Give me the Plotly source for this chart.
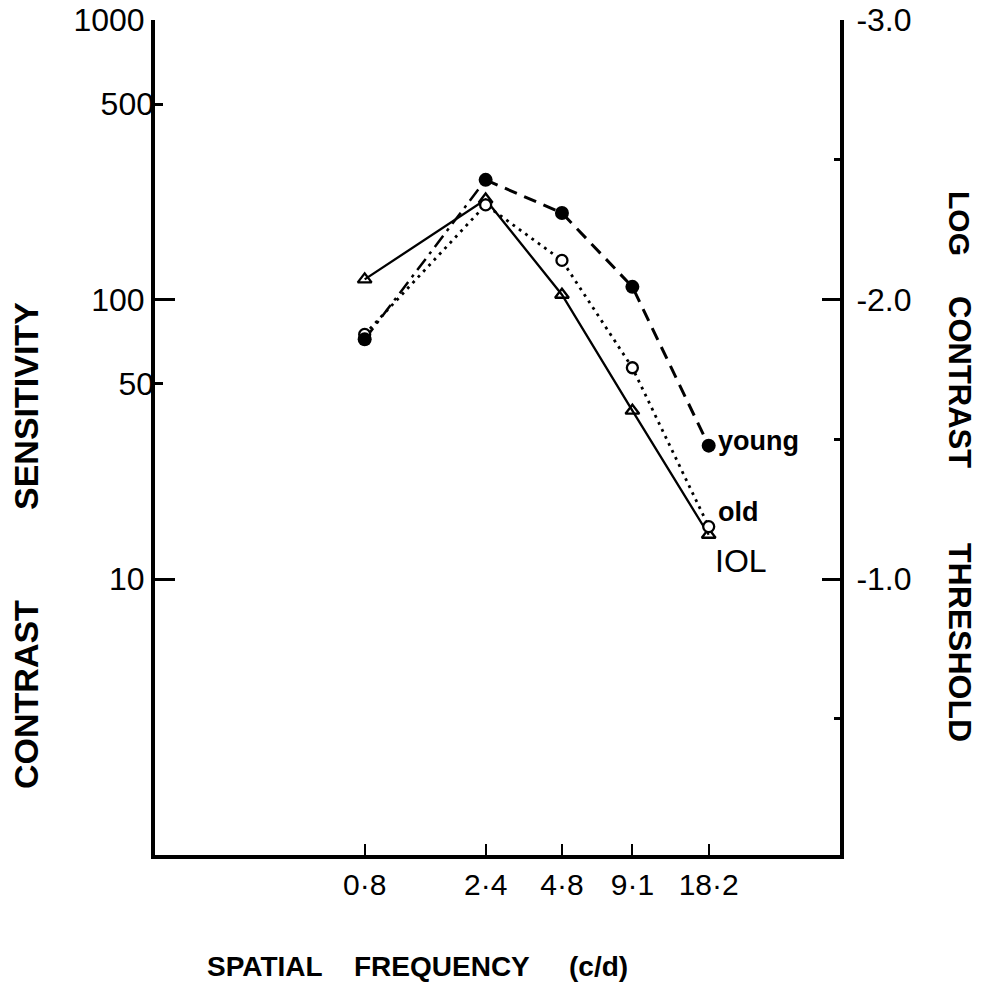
import plotly.graph_objects as go

freq = [0.8, 2.4, 4.8, 9.1, 18.2]
freq_labels = ["0·8", "2·4", "4·8", "9·1", "18·2"]
young = [72, 268, 204, 111, 30]
old = [75, 218, 138, 57, 15.4]
iol = [118, 228, 104, 40, 14.4]

left_major = [1000, 100, 10]
left_minor = [500, 50]
right_major = [-3.0, -2.0, -1.0]
right_major_text = ["-3.0", "-2.0", "-1.0"]
right_minor = [-2.5, -1.5, -0.5]

FONT = "Liberation Sans"
K = "black"

# plot area in page pixels
PL, PR, PT, PB = 155, 840, 20, 855
W, H = 985, 997

fig = go.Figure()

# young: dash-dot from first to second point, dashed afterwards
fig.add_trace(go.Scatter(x=freq[:2], y=young[:2], mode="lines",
                         line=dict(color=K, width=2.5, dash="14px,6px,3px,6px"),
                         showlegend=False, hoverinfo="skip"))
fig.add_trace(go.Scatter(x=freq[1:], y=young[1:], mode="lines",
                         line=dict(color=K, width=3, dash="13px,8px"),
                         showlegend=False, hoverinfo="skip"))
fig.add_trace(go.Scatter(x=freq, y=old, mode="lines",
                         line=dict(color=K, width=2.8, dash="2.8px,5px"),
                         showlegend=False))
fig.add_trace(go.Scatter(x=freq, y=iol, mode="lines+markers",
                         line=dict(color=K, width=2.3),
                         marker=dict(symbol="triangle-up-open", size=12, color=K,
                                     line=dict(width=2.3, color=K)),
                         showlegend=False))
fig.add_trace(go.Scatter(x=freq, y=old, mode="markers",
                         marker=dict(symbol="circle", size=11, color="white",
                                     line=dict(width=2.3, color=K)),
                         showlegend=False))
fig.add_trace(go.Scatter(x=freq, y=young, mode="markers",
                         marker=dict(symbol="circle", size=14, color=K),
                         showlegend=False))
# invisible traces so the extra axes are drawn
fig.add_trace(go.Scatter(x=freq[:1], y=right_major[:1], yaxis="y2", mode="markers",
                         marker=dict(opacity=0), showlegend=False, hoverinfo="skip"))
fig.add_trace(go.Scatter(x=freq[:1], y=left_minor[:1], yaxis="y3", mode="markers",
                         marker=dict(opacity=0), showlegend=False, hoverinfo="skip"))

tickfont = dict(family=FONT, size=32, color=K)

fig.update_layout(
    width=W, height=H,
    margin=dict(l=PL, r=W - PR, t=PT, b=H - PB, pad=0, autoexpand=False),
    paper_bgcolor="white", plot_bgcolor="white",
    xaxis=dict(type="log", range=[-0.924, 1.778], automargin=False,
               tickvals=freq, ticktext=freq_labels,
               ticks="inside", ticklen=11, tickwidth=2, tickcolor=K,
               showline=True, linewidth=4, linecolor=K, mirror=False,
               showgrid=False, zeroline=False,
               tickfont=dict(family=FONT, size=30, color=K),
               ticklabelstandoff=0, ticklabeloverflow="allow"),
    yaxis=dict(type="log", range=[0.0125, 3.0], automargin=False,
               tickvals=left_major, ticktext=[str(v) for v in left_major],
               ticks="inside", ticklen=20, tickwidth=2.5, tickcolor=K,
               showline=True, linewidth=4, linecolor=K,
               showgrid=False, zeroline=False, tickfont=tickfont,
               ticklabeloverflow="allow"),
    yaxis3=dict(type="log", range=[0.0125, 3.0], overlaying="y", anchor="x", side="left",
                automargin=False,
                tickvals=left_minor, ticktext=[str(v) for v in left_minor],
                ticks="inside", ticklen=8, tickwidth=2.5, tickcolor=K,
                showline=False, showgrid=False, zeroline=False, tickfont=tickfont,
                ticklabeloverflow="allow"),
    yaxis2=dict(range=[-0.0125, -3.0], overlaying="y", anchor="x", side="right",
                automargin=False,
                tickvals=right_major, ticktext=right_major_text,
                ticks="inside", ticklen=18, tickwidth=2.5, tickcolor=K,
                minor=dict(tickvals=right_minor, ticks="inside", ticklen=6,
                           tickwidth=2.5, tickcolor=K),
                showline=True, linewidth=4, linecolor=K,
                showgrid=False, zeroline=False, tickfont=tickfont,
                ticklabelstandoff=6, ticklabeloverflow="allow"),
)


def px2paper(px, py):
    return (px - PL) / (PR - PL), (PB - py) / (PB - PT)


annots = []


def add_text(text, px, py, size, angle=0, xanchor="center", yanchor="middle", bold=False):
    x, y = px2paper(px, py)
    if bold:
        text = "<b>" + text + "</b>"
    annots.append(dict(text=text, x=x, y=y, xref="paper", yref="paper",
                       showarrow=False, textangle=angle, xanchor=xanchor,
                       yanchor=yanchor, font=dict(family=FONT, size=size, color=K)))


add_text("young", 716, 441, 27, xanchor="left", bold=True)
add_text("old", 716, 512, 27, xanchor="left", bold=True)
add_text("IOL", 713, 561, 32, xanchor="left")

add_text("CONTRAST", 26, 695, 34, angle=-90, bold=True)
add_text("SENSITIVITY", 26, 406, 34, angle=-90, bold=True)

add_text("LOG", 960, 223, 30, angle=90, bold=True)
add_text("CONTRAST", 960, 382, 31, angle=90, bold=True)
add_text("THRESHOLD", 960, 642, 32, angle=90, bold=True)

add_text("SPATIAL", 265, 966, 28, bold=True)
add_text("FREQUENCY", 442, 966, 28, bold=True)
add_text("(c/d)", 598, 966, 28, bold=True)

fig.update_layout(annotations=annots)

# remove the default 8px page margin so the figure fills the window exactly
fig.write_html("out.html",
               config={"displayModeBar": False},
               post_script="document.body.style.margin='0';"
                           "document.body.style.overflow='hidden';")
